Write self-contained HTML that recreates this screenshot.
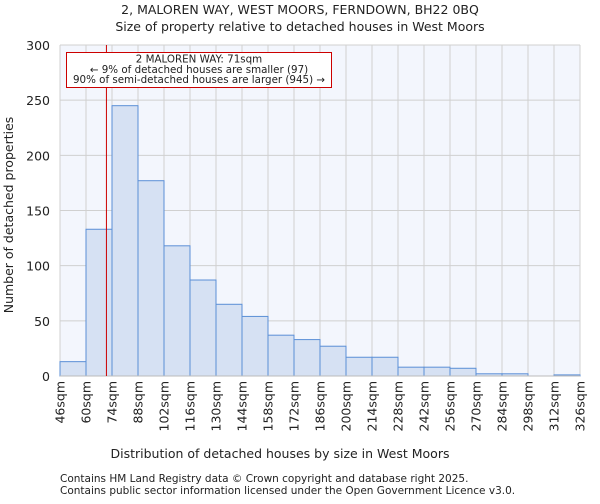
<!DOCTYPE html>
<html><head><meta charset="utf-8"><style>
body{margin:0;background:#fff;font-family:"DejaVu Sans","Liberation Sans",sans-serif}
svg text{font-family:"DejaVu Sans","Liberation Sans",sans-serif;fill:#222}
</style></head><body>
<svg id="c" width="600" height="500">
<text x="300" y="14" font-size="12.5" text-anchor="middle">2, MALOREN WAY, WEST MOORS, FERNDOWN, BH22 0BQ</text>
<text x="300" y="31" font-size="12.5" text-anchor="middle">Size of property relative to detached houses in West Moors</text>
<text x="280" y="458" font-size="12.5" text-anchor="middle">Distribution of detached houses by size in West Moors</text>
<text transform="translate(13,215) rotate(-90)" font-size="12.5" text-anchor="middle">Number of detached properties</text>
<text x="60" y="482" font-size="10.5">Contains HM Land Registry data © Crown copyright and database right 2025.</text>
<text x="60" y="494" font-size="10.5">Contains public sector information licensed under the Open Government Licence v3.0.</text>
<g id="plot"></g>
</svg>
<script>
const binStarts=[46,60,74,88,102,116,130,144,158,172,186,200,214,228,242,256,270,284,298,312];
const counts=[13,133,245,177,118,87,65,54,37,33,27,17,17,8,8,7,2,2,0,1];
const xTicks=[46,60,74,88,102,116,130,144,158,172,186,200,214,228,242,256,270,284,298,312,326];
const yTicks=[0,50,100,150,200,250,300];
const propertySize=71;
const X0=60,X1=580,Y0=376,Y1=45;
const xs=v=>X0+(v-46)/(326-46)*(X1-X0);
const ys=v=>Y0-v/300*(Y0-Y1);
const NS="http://www.w3.org/2000/svg";
const g=document.getElementById('plot');
function mk(t,a){const e=document.createElementNS(NS,t);for(const k in a)e.setAttribute(k,a[k]);g.appendChild(e);return e;}
let bg=mk('rect',{x:X0,y:Y1,width:X1-X0,height:Y0-Y1,fill:'#f3f6fd'});


xTicks.forEach(t=>{const l=mk('line',{x1:xs(t),x2:xs(t),y1:Y1,y2:Y0,stroke:'#d0d0d0','stroke-width':1});


const tx=mk('text',{transform:`translate(${xs(t)+4.5},381) rotate(-90)`,'font-size':'12.5','text-anchor':'end'});tx.textContent=t+'sqm';

});
yTicks.forEach(t=>{const l=mk('line',{x1:X0,x2:X1,y1:ys(t),y2:ys(t),stroke:'#d0d0d0','stroke-width':1});


const tx=mk('text',{x:50,y:ys(t)+5,'font-size':'12.5','text-anchor':'end'});tx.textContent=t;

});
binStarts.forEach((b,i)=>{if(counts[i]<=0)return;const r=mk('rect',{x:xs(b),y:ys(counts[i]),width:xs(b+14)-xs(b),height:Y0-ys(counts[i]),fill:'#d6e1f3',stroke:'#5b8fd6','stroke-width':1});

});
let ax=mk('line',{x1:X0,x2:X1,y1:Y0,y2:Y0,stroke:'#bbb','stroke-width':1});


let rl=mk('line',{x1:xs(propertySize),x2:xs(propertySize),y1:Y1,y2:Y0,stroke:'#cc0000','stroke-width':1});


let box=mk('rect',{x:66.5,y:52.5,width:265,height:35,fill:'#fff',stroke:'#cc0000','stroke-width':1});


["2 MALOREN WAY: 71sqm","← 9% of detached houses are smaller (97)","90% of semi-detached houses are larger (945) →"].forEach((s,i)=>{const t=mk('text',{x:199,y:62.5+i*10.3,'font-size':'10.3','text-anchor':'middle'});t.textContent=s;

});
</script>
</body></html>
